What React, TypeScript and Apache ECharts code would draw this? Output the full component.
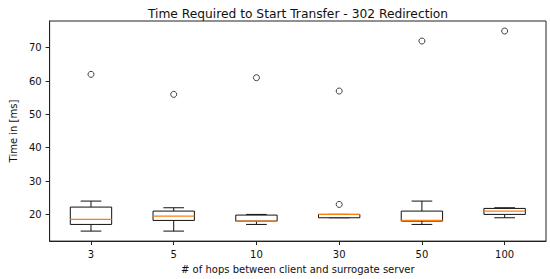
import React, { useEffect, useRef } from "react";
import * as echarts from "echarts";

const categories = ["3", "5", "10", "30", "50", "100"];
const whiskerLow = [15, 15, 17, 19, 17, 19];
const q1 = [17, 18.2, 18, 19, 18, 20];
const median = [18.5, 19.5, 18, 20, 18.2, 21];
const q3 = [22.2, 21, 19.8, 20, 21, 21.8];
const whiskerHigh = [24, 22, 20, 20, 24, 22];
const outliers: [string, number][] = [
  ["3", 62],
  ["5", 56],
  ["10", 61],
  ["30", 57],
  ["30", 23],
  ["50", 72],
  ["100", 75],
];
const yTicks = [20, 30, 40, 50, 60, 70];

const FONT = "DejaVu Sans";

export default function App() {
  const ref = useRef<HTMLDivElement>(null);
  useEffect(() => {
    if (!ref.current) return;
    const chart = echarts.init(ref.current, null, { renderer: "svg" });
    const boxData = categories.map((c, i) => [i, whiskerLow[i], q1[i], median[i], q3[i], whiskerHigh[i]]);
    chart.setOption({
      animation: false,
      backgroundColor: "#fff",
      title: {
        text: "Time Required to Start Transfer - 302 Redirection",
        left: 293,
        textAlign: "center",
        top: 3,
        textStyle: { fontFamily: FONT, fontSize: 12.25, fontWeight: "normal", color: "#111" },
      },
      grid: {
        left: 40,
        right: 4,
        top: 21,
        bottom: 36,
        show: true,
        borderColor: "#222",
        borderWidth: 1,
        backgroundColor: "transparent",
      },
      xAxis: {
        type: "category",
        data: categories,
        boundaryGap: true,
        name: "# of hops between client and surrogate server",
        nameLocation: "middle",
        nameGap: 20,
        nameTextStyle: { fontFamily: FONT, fontSize: 10, color: "#111" },
        axisLine: { show: true, lineStyle: { color: "#222", width: 1 } },
        axisTick: { show: true, alignWithLabel: true, length: 4, lineStyle: { color: "#222" } },
        axisLabel: { fontFamily: FONT, fontSize: 10, color: "#111", margin: 8 },
        splitLine: { show: false },
      },
      yAxis: {
        type: "value",
        min: 12,
        max: 78,
        name: "Time in [ms]",
        nameLocation: "middle",
        nameGap: 30,
        nameRotate: 90,
        nameTextStyle: { fontFamily: FONT, fontSize: 10, color: "#111" },
        axisLine: { show: true, lineStyle: { color: "#222", width: 1 } },
        axisTick: { show: true, length: 4, customValues: yTicks, lineStyle: { color: "#222" } },
        axisLabel: { fontFamily: FONT, fontSize: 10, color: "#111", margin: 8, customValues: yTicks },
        splitLine: { show: false },
      },
      series: [
        {
          type: "custom",
          data: boxData,
          encode: { x: 0, y: [1, 2, 3, 4, 5] },
          renderItem: (params: any, api: any) => {
            const x = api.value(0);
            const lo = api.coord([x, api.value(1)]);
            const b1 = api.coord([x, api.value(2)]);
            const md = api.coord([x, api.value(3)]);
            const b3 = api.coord([x, api.value(4)]);
            const hi = api.coord([x, api.value(5)]);
            const band = api.size([1, 0])[0];
            const w = band * 0.5;
            const cw = w * 0.5;
            const cx = lo[0];
            const stroke = { stroke: "#111", lineWidth: 1, fill: null };
            return {
              type: "group",
              children: [
                { type: "line", shape: { x1: cx, y1: b1[1], x2: cx, y2: lo[1] }, style: stroke },
                { type: "line", shape: { x1: cx, y1: b3[1], x2: cx, y2: hi[1] }, style: stroke },
                { type: "line", shape: { x1: cx - cw / 2, y1: lo[1], x2: cx + cw / 2, y2: lo[1] }, style: stroke },
                { type: "line", shape: { x1: cx - cw / 2, y1: hi[1], x2: cx + cw / 2, y2: hi[1] }, style: stroke },
                {
                  type: "rect",
                  shape: { x: cx - w / 2, y: b3[1], width: w, height: b1[1] - b3[1] },
                  style: { stroke: "#111", lineWidth: 1, fill: "#fff" },
                },
                {
                  type: "line",
                  shape: { x1: cx - w / 2, y1: md[1], x2: cx + w / 2, y2: md[1] },
                  style: { stroke: "#ff7f0e", lineWidth: 1.2 },
                },
              ],
            };
          },
        },
        {
          type: "scatter",
          data: outliers,
          symbol: "circle",
          symbolSize: 6,
          itemStyle: { color: "#fff", borderColor: "#111", borderWidth: 1 },
        },
      ],
    });
    return () => chart.dispose();
  }, []);
  return <div ref={ref} style={{ width: 550, height: 279, position: "absolute", left: 0, top: 0 }} />;
}
